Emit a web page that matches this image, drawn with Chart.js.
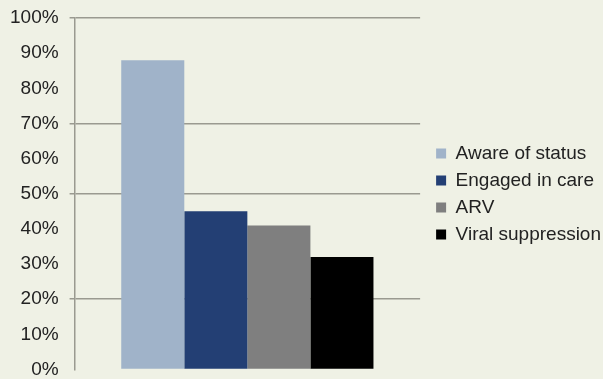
<!DOCTYPE html>
<html>
<head>
<meta charset="utf-8">
<script src="https://cdn.jsdelivr.net/npm/chart.js@4/dist/chart.umd.min.js"></script>
<style>
    html, body { margin: 0; padding: 0; background: #eff1e5; }
    #wrap { width: 603px; height: 379px; position: relative; }
</style>
</head>
<body>
<div id="wrap"><canvas id="cascade"></canvas></div>
<script>
// HIV care cascade — share of people at each stage
const categories = [''];
const stages = ['Aware of status', 'Engaged in care', 'ARV', 'Viral suppression'];
const stageValues = [88, 45, 41, 32];
const stageColors = ['#a0b3c9', '#233f74', '#7f7f7f', '#000000'];
const yTicks = [0, 10, 20, 30, 40, 50, 60, 70, 80, 90, 100];
const gridAt = [20, 50, 70, 100];

const lineGray = '#9a9a90';
const textColor = '#222222';
const font = { family: "'Liberation Sans', Arial, sans-serif", size: 19, lineHeight: 1 };

const datasets = stages.map((label, i) => ({
    label,
    data: [stageValues[i]],
    backgroundColor: stageColors[i],
    borderWidth: 0,
    categoryPercentage: 0.73,
    barPercentage: 1.0
}));

new Chart(document.getElementById('cascade'), {
    type: 'bar',
    data: { labels: categories, datasets },
    options: {
        responsive: true,
        maintainAspectRatio: false,
        animation: false,
        layout: { padding: { top: 18, bottom: 9, left: 10, right: -8 } },
        plugins: {
            tooltip: { enabled: false },
            legend: {
                position: 'right',
                maxWidth: 260,
                labels: {
                    color: textColor,
                    font,
                    boxWidth: 10,
                    boxHeight: 10,
                    padding: 8
                }
            }
        },
        scales: {
            x: { display: false },
            y: {
                min: 0,
                max: 100,
                afterBuildTicks: axis => { axis.ticks = yTicks.map(v => ({ value: v })); },
                ticks: {
                    color: textColor,
                    font,
                    padding: 0,
                    callback: v => v + '%'
                },
                grid: {
                    color: c => gridAt.includes(c.tick && c.tick.value) ? lineGray : 'transparent',
                    lineWidth: 1.5,
                    // long tick gap keeps labels off the axis; only the last 5px is stroked
                    tickLength: 16,
                    tickBorderDash: [0, 11, 5, 0]
                },
                border: { display: true, color: lineGray, width: 1.5 }
            },
            // spacer between the plot and the legend
            gap: {
                position: 'right',
                display: true,
                grid: { display: false },
                border: { display: false },
                ticks: { display: false },
                afterFit: s => { s.width = 8; }
            }
        }
    }
});
</script>
</body>
</html>
